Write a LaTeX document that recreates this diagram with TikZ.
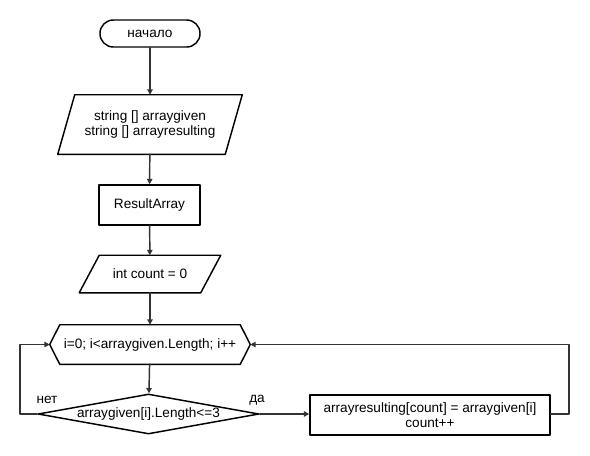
\documentclass[tikz,border=0pt]{standalone}
\usepackage{fontspec}
\setmainfont{Liberation Sans}
\usetikzlibrary{shapes.geometric,arrows.meta}
\tikzset{
    lab/.style={
        font=\fontsize{10.2}{10.8}\selectfont, align=center
    },
    blk/.style={lab, draw, line width=1.1pt, inner sep=0pt},
    term/.style={blk, rectangle, rounded corners=10pt,
        minimum width=75pt, minimum height=20.25pt},
    frame/.style={lab, rectangle, inner sep=0pt},
    outline/.style={line width=1.1pt},
    proc/.style={blk, rectangle},
    decision/.style={blk, diamond, minimum width=165.75pt, minimum height=30pt},
    conn/.style={line width=1.1pt, draw=black!80, -{Triangle[length=4pt,width=4pt]}}
}

\begin{document}
\begin{tikzpicture}[x=0.75pt, y=-0.75pt, line cap=round, line join=round]

% picture frame (pixels of the 590x455 sheet)
    \useasboundingbox (0,0) rectangle (590,455);

% --- main column ---
    \node[term] (start) at (150,33.5) {начало};
    \node[frame, minimum width=138pt, minimum height=44.25pt] (input) at (150,124.5)
        {string [] arraygiven\\string [] arrayresulting};
    \node[proc, minimum width=75.75pt, minimum height=30pt] (func) at (149.5,205) {ResultArray};
    \node[frame, minimum width=105.75pt, minimum height=27.75pt] (count) at (150,274) {int count = 0};

% loop header and condition
    \node[frame, minimum width=150pt, minimum height=29.25pt] (cycle) at (150,344.5)
        {i=0; i<arraygiven.Length; i++};
    \node[decision, label={[lab]center:arraygiven[i].Length<=3}] (cond) at (148.5,414) {};

% body of the loop
    \node[proc, minimum width=180pt, minimum height=30pt] (body) at (430,415)
        {arrayresulting[count] = arraygiven[i]\\count++};

% outlines of the slanted boxes and of the loop header
    \draw[outline] (input.south west) -- ([xshift=12.75pt]input.north west)
        -- (input.north east) -- ([xshift=-12.75pt]input.south east) -- cycle;
    \draw[outline] (count.south west) -- ([xshift=15pt]count.north west)
        -- (count.north east) -- ([xshift=-15pt]count.south east) -- cycle;
    \draw[outline] (cycle.west) -- ([xshift=7.5pt]cycle.north west)
        -- ([xshift=-7.5pt]cycle.north east) -- (cycle.east)
        -- ([xshift=-7.5pt]cycle.south east) -- ([xshift=7.5pt]cycle.south west) -- cycle;

% branch labels
    \node[lab] (no)  at (47,400)  {нет};
    \node[lab] (yes) at (257,400) {да};

% return points
    \coordinate (noback)  at (20,414);
    \coordinate (yesback) at (569,414);

% --- connectors ---
    \draw[conn] (start) -- (input);
    \draw[conn] (input) -- (func);
    \draw[conn] (func) -- (count);
    \draw[conn] (count) -- (cycle);
    \draw[conn] (cycle) -- (cond);
    \draw[conn] (cond.east) -- (body.west |- cond.east);
    \draw[conn] (cond.west) -- (noback) |- (cycle.west);
    \draw[conn] (body.east |- yesback) -- (yesback) |- (cycle.east);

\end{tikzpicture}
\end{document}
